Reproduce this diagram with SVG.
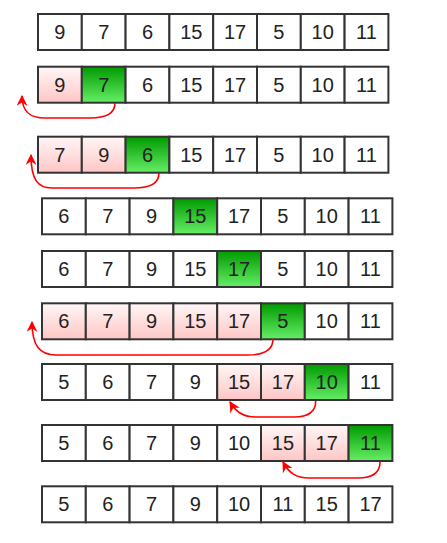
<svg xmlns="http://www.w3.org/2000/svg" width="447" height="543" viewBox="0 0 447 543">
<defs>
<linearGradient id="pink" x1="0" y1="0" x2="0" y2="1"><stop offset="0" stop-color="#fff6f6"/><stop offset="1" stop-color="#ffc6c6"/></linearGradient>
<linearGradient id="green" x1="0" y1="0" x2="0" y2="1"><stop offset="0" stop-color="#009a00"/><stop offset="1" stop-color="#66ee66"/></linearGradient>
<marker id="ah" viewBox="0 0 10 10" refX="9" refY="5" markerWidth="11" markerHeight="11" markerUnits="userSpaceOnUse" orient="auto"><path d="M0,0 L10,5 L0,10 L3,5 z" fill="#ff0000"/></marker>
</defs>
<style>
rect{stroke:#333;stroke-width:2;fill:#fff}
rect.p{fill:url(#pink)}
rect.g{fill:url(#green)}
text{font-family:"Liberation Sans",Arial,sans-serif;font-size:20px;fill:#222;text-anchor:middle;dominant-baseline:central}
.arr path{fill:none;stroke:#ff0000;stroke-width:1.6}
</style>
<rect x="0" y="0" width="447" height="543" style="fill:#fff;stroke:none"/>
<g id="row1" transform="translate(38,14)">
<rect x="0" y="0" width="43.8" height="36"/><text x="21.9" y="18">9</text>
<rect x="43.8" y="0" width="43.8" height="36"/><text x="65.7" y="18">7</text>
<rect x="87.6" y="0" width="43.8" height="36"/><text x="109.5" y="18">6</text>
<rect x="131.4" y="0" width="43.8" height="36"/><text x="153.3" y="18">15</text>
<rect x="175.2" y="0" width="43.8" height="36"/><text x="197.1" y="18">17</text>
<rect x="219" y="0" width="43.8" height="36"/><text x="240.9" y="18">5</text>
<rect x="262.8" y="0" width="43.8" height="36"/><text x="284.7" y="18">10</text>
<rect x="306.6" y="0" width="43.8" height="36"/><text x="328.5" y="18">11</text>
</g>
<g id="row2" transform="translate(38,66.7)">
<rect class="p" x="0" y="0" width="43.8" height="36"/><text x="21.9" y="18">9</text>
<rect class="g" x="43.8" y="0" width="43.8" height="36"/><text x="65.7" y="18">7</text>
<rect x="87.6" y="0" width="43.8" height="36"/><text x="109.5" y="18">6</text>
<rect x="131.4" y="0" width="43.8" height="36"/><text x="153.3" y="18">15</text>
<rect x="175.2" y="0" width="43.8" height="36"/><text x="197.1" y="18">17</text>
<rect x="219" y="0" width="43.8" height="36"/><text x="240.9" y="18">5</text>
<rect x="262.8" y="0" width="43.8" height="36"/><text x="284.7" y="18">10</text>
<rect x="306.6" y="0" width="43.8" height="36"/><text x="328.5" y="18">11</text>
</g>
<g id="row3" transform="translate(38,136.7)">
<rect class="p" x="0" y="0" width="43.8" height="36"/><text x="21.9" y="18">7</text>
<rect class="p" x="43.8" y="0" width="43.8" height="36"/><text x="65.7" y="18">9</text>
<rect class="g" x="87.6" y="0" width="43.8" height="36"/><text x="109.5" y="18">6</text>
<rect x="131.4" y="0" width="43.8" height="36"/><text x="153.3" y="18">15</text>
<rect x="175.2" y="0" width="43.8" height="36"/><text x="197.1" y="18">17</text>
<rect x="219" y="0" width="43.8" height="36"/><text x="240.9" y="18">5</text>
<rect x="262.8" y="0" width="43.8" height="36"/><text x="284.7" y="18">10</text>
<rect x="306.6" y="0" width="43.8" height="36"/><text x="328.5" y="18">11</text>
</g>
<g id="row4" transform="translate(42,198.3)">
<rect x="0" y="0" width="43.8" height="36"/><text x="21.9" y="18">6</text>
<rect x="43.8" y="0" width="43.8" height="36"/><text x="65.7" y="18">7</text>
<rect x="87.6" y="0" width="43.8" height="36"/><text x="109.5" y="18">9</text>
<rect class="g" x="131.4" y="0" width="43.8" height="36"/><text x="153.3" y="18">15</text>
<rect x="175.2" y="0" width="43.8" height="36"/><text x="197.1" y="18">17</text>
<rect x="219" y="0" width="43.8" height="36"/><text x="240.9" y="18">5</text>
<rect x="262.8" y="0" width="43.8" height="36"/><text x="284.7" y="18">10</text>
<rect x="306.6" y="0" width="43.8" height="36"/><text x="328.5" y="18">11</text>
</g>
<g id="row5" transform="translate(42,251)">
<rect x="0" y="0" width="43.8" height="36"/><text x="21.9" y="18">6</text>
<rect x="43.8" y="0" width="43.8" height="36"/><text x="65.7" y="18">7</text>
<rect x="87.6" y="0" width="43.8" height="36"/><text x="109.5" y="18">9</text>
<rect x="131.4" y="0" width="43.8" height="36"/><text x="153.3" y="18">15</text>
<rect class="g" x="175.2" y="0" width="43.8" height="36"/><text x="197.1" y="18">17</text>
<rect x="219" y="0" width="43.8" height="36"/><text x="240.9" y="18">5</text>
<rect x="262.8" y="0" width="43.8" height="36"/><text x="284.7" y="18">10</text>
<rect x="306.6" y="0" width="43.8" height="36"/><text x="328.5" y="18">11</text>
</g>
<g id="row6" transform="translate(42,303.3)">
<rect class="p" x="0" y="0" width="43.8" height="36"/><text x="21.9" y="18">6</text>
<rect class="p" x="43.8" y="0" width="43.8" height="36"/><text x="65.7" y="18">7</text>
<rect class="p" x="87.6" y="0" width="43.8" height="36"/><text x="109.5" y="18">9</text>
<rect class="p" x="131.4" y="0" width="43.8" height="36"/><text x="153.3" y="18">15</text>
<rect class="p" x="175.2" y="0" width="43.8" height="36"/><text x="197.1" y="18">17</text>
<rect class="g" x="219" y="0" width="43.8" height="36"/><text x="240.9" y="18">5</text>
<rect x="262.8" y="0" width="43.8" height="36"/><text x="284.7" y="18">10</text>
<rect x="306.6" y="0" width="43.8" height="36"/><text x="328.5" y="18">11</text>
</g>
<g id="row7" transform="translate(42,364)">
<rect x="0" y="0" width="43.8" height="36"/><text x="21.9" y="18">5</text>
<rect x="43.8" y="0" width="43.8" height="36"/><text x="65.7" y="18">6</text>
<rect x="87.6" y="0" width="43.8" height="36"/><text x="109.5" y="18">7</text>
<rect x="131.4" y="0" width="43.8" height="36"/><text x="153.3" y="18">9</text>
<rect class="p" x="175.2" y="0" width="43.8" height="36"/><text x="197.1" y="18">15</text>
<rect class="p" x="219" y="0" width="43.8" height="36"/><text x="240.9" y="18">17</text>
<rect class="g" x="262.8" y="0" width="43.8" height="36"/><text x="284.7" y="18">10</text>
<rect x="306.6" y="0" width="43.8" height="36"/><text x="328.5" y="18">11</text>
</g>
<g id="row8" transform="translate(42,425)">
<rect x="0" y="0" width="43.8" height="36"/><text x="21.9" y="18">5</text>
<rect x="43.8" y="0" width="43.8" height="36"/><text x="65.7" y="18">6</text>
<rect x="87.6" y="0" width="43.8" height="36"/><text x="109.5" y="18">7</text>
<rect x="131.4" y="0" width="43.8" height="36"/><text x="153.3" y="18">9</text>
<rect x="175.2" y="0" width="43.8" height="36"/><text x="197.1" y="18">10</text>
<rect class="p" x="219" y="0" width="43.8" height="36"/><text x="240.9" y="18">15</text>
<rect class="p" x="262.8" y="0" width="43.8" height="36"/><text x="284.7" y="18">17</text>
<rect class="g" x="306.6" y="0" width="43.8" height="36"/><text x="328.5" y="18">11</text>
</g>
<g id="row9" transform="translate(42,486.3)">
<rect x="0" y="0" width="43.8" height="36"/><text x="21.9" y="18">5</text>
<rect x="43.8" y="0" width="43.8" height="36"/><text x="65.7" y="18">6</text>
<rect x="87.6" y="0" width="43.8" height="36"/><text x="109.5" y="18">7</text>
<rect x="131.4" y="0" width="43.8" height="36"/><text x="153.3" y="18">9</text>
<rect x="175.2" y="0" width="43.8" height="36"/><text x="197.1" y="18">10</text>
<rect x="219" y="0" width="43.8" height="36"/><text x="240.9" y="18">11</text>
<rect x="262.8" y="0" width="43.8" height="36"/><text x="284.7" y="18">15</text>
<rect x="306.6" y="0" width="43.8" height="36"/><text x="328.5" y="18">17</text>
</g>
<g id="connectors" class="arr">
<path d="M115,103 C115,114 106,118 90,118 L45,118 C30,118 22,112 22,96" marker-end="url(#ah)"/>
<path d="M159,173 C159,184 150,188 134,188 L52,188 C38,188 31,180 31,155" marker-end="url(#ah)"/>
<path d="M273,339 C273,350 264,355 248,355 L56,355 C40,355 32,346 32,322" marker-end="url(#ah)"/>
<path d="M315.7,401 C315.7,412 308,417 294,417 L256,417 C243,417 236,412 230,402" marker-end="url(#ah)"/>
<path d="M380,462 C380,473 372,478 358,478 L309,478 C296,478 289,473 283,462" marker-end="url(#ah)"/>
</g>
</svg>
